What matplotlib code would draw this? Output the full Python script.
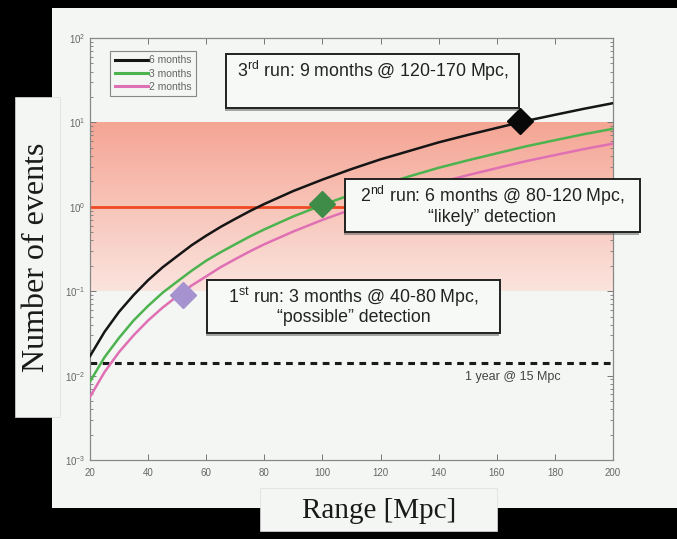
import numpy as np
import matplotlib
matplotlib.use("Agg")
import matplotlib.pyplot as plt
from matplotlib.patches import Rectangle
from matplotlib.colors import to_rgb

plt.rcParams['font.family'] = ['Liberation Sans', 'DejaVu Sans']
plt.rcParams['mathtext.default'] = 'regular'

# ---------------- data ----------------
range_mpc = [20, 25, 30, 35, 40, 45, 50, 55, 60, 65, 70, 75, 80, 90, 100, 110, 120, 130, 140, 150, 160, 170, 180, 190, 200]
events_6m = [0.017, 0.033, 0.057, 0.090, 0.135, 0.192, 0.26, 0.351, 0.455, 0.579, 0.72, 0.889, 1.08, 1.54, 2.1, 2.8, 3.65, 4.6, 5.8, 7.1, 8.6, 10.4, 12.3, 14.5, 16.9]
events_3m = [0.0085, 0.0165, 0.028, 0.045, 0.067, 0.096, 0.13, 0.175, 0.23, 0.29, 0.36, 0.445, 0.54, 0.77, 1.05, 1.4, 1.8, 2.3, 2.9, 3.55, 4.3, 5.2, 6.15, 7.25, 8.4]
events_2m = [0.0056, 0.011, 0.019, 0.030, 0.045, 0.064, 0.087, 0.117, 0.15, 0.193, 0.24, 0.296, 0.36, 0.51, 0.70, 0.93, 1.2, 1.53, 1.93, 2.37, 2.87, 3.47, 4.1, 4.83, 5.6]
series_labels = ['6 months', '3 months', '2 months']

run_points_x = [52, 100, 168]
run_points_y = [0.09, 1.08, 10.3]

band_low, band_high = 0.1, 10.0
likely_level = 1.0
likely_x = [20, 110]
year15_level = 0.014
year15_x = [20, 200]

x_ticks = [20, 40, 60, 80, 100, 120, 140, 160, 180, 200]
y_ticks = [1e-3, 1e-2, 1e-1, 1e0, 1e1, 1e2]
y_ticklabels = ['$10^{-3}$', '$10^{-2}$', '$10^{-1}$', '$10^{0}$', '$10^{1}$', '$10^{2}$']

run_texts = [
    ('3$^{rd}$ run: 9 months @ 120-170 Mpc,', ''),
    ('2$^{nd}$ run: 6 months @ 80-120 Mpc,', '\u201clikely\u201d detection'),
    ('1$^{st}$ run: 3 months @ 40-80 Mpc,', '\u201cpossible\u201d detection'),
]

# ---------------- layout ----------------
W, H = 677, 539
fig = plt.figure(figsize=(W / 100, H / 100), dpi=100, facecolor='black')

def fx(px):
    return px / W

def fy(py):
    return 1 - py / H

slide_bg = '#f3f6f2'
fig.patches.append(Rectangle((fx(52), fy(508)), fx(677) - fx(52), fy(8) - fy(508),
                             transform=fig.transFigure, facecolor=slide_bg, edgecolor='none', zorder=-5))

ax = fig.add_axes([fx(90), fy(460), fx(613) - fx(90), fy(38) - fy(460)])
ax.set_zorder(1)
ax.set_facecolor(slide_bg)
ax.set_yscale('log')
ax.set_xlim(20, 200)
ax.set_ylim(1e-3, 1e2)

# gradient band
top_c = np.array(to_rgb('#f4a594'))
bot_c = np.array(to_rgb('#fae3dd'))
edges = np.logspace(np.log10(band_low), np.log10(band_high), 81)
for i in range(len(edges) - 1):
    t = i / (len(edges) - 2)
    c = bot_c * (1 - t) + top_c * t
    ax.axhspan(edges[i], edges[i + 1], color=c, lw=0, zorder=1)

ax.plot(likely_x, [likely_level] * 2, color='#ee4a22', lw=2.0, zorder=2)
ax.plot(year15_x, [year15_level] * 2, color='#1a1a1a', lw=2.2, ls=(0, (2.2, 1.8)), zorder=2)

colors = ['#151515', '#4db34f', '#e070b4']
for ys, c, lab in zip([events_6m, events_3m, events_2m], colors, series_labels):
    ax.plot(range_mpc, ys, color=c, lw=1.8, label=lab, zorder=3)

marker_colors = ['#a592cf', '#3f8c48', '#080808']
for x, y, c in zip(run_points_x, run_points_y, marker_colors):
    ax.plot([x], [y], marker='D', ms=13, color=c, mec=c, zorder=4)

ax.set_xticks(x_ticks)
ax.set_xticklabels([str(v) for v in x_ticks])
ax.set_yticks(y_ticks)
ax.set_yticklabels(y_ticklabels)
ax.tick_params(which='both', direction='in', top=True, right=True, colors='#777777',
               labelcolor='#666666', labelsize=7)
ax.tick_params(which='major', length=4, width=0.7)
ax.tick_params(which='minor', length=2, width=0.6)
ax.tick_params(axis='x', pad=6)
for s in ax.spines.values():
    s.set_color('#888888')
    s.set_linewidth(0.9)

leg = ax.legend(loc='upper left', bbox_to_anchor=(0.028, 0.982), fontsize=7.5, handlelength=3.2,
                handletextpad=0.1, labelspacing=0.3, borderpad=0.45, fancybox=False,
                framealpha=1, facecolor=slide_bg, edgecolor='#888888')
for t in leg.get_texts():
    t.set_color('#666666')
for l in leg.get_lines():
    l.set_linewidth(2.2)
leg.get_frame().set_linewidth(0.8)

ax.text(0.809, 0.197, '1 year @ 15 Mpc', transform=ax.transAxes, fontsize=9, color='#444444',
        ha='center', va='center')

# annotation boxes
boxes = [(226, 54, 519, 108), (345, 179, 640, 232), (207, 280, 500, 333)]
for (x0, y0, x1, y1), (l1, l2) in zip(boxes, run_texts):
    fig.patches.append(Rectangle((fx(x0 - 1), fy(y1 + 3)), fx(x1) - fx(x0), fy(y0) - fy(y1),
                                 transform=fig.transFigure, facecolor='#555555', edgecolor='none',
                                 alpha=0.5, zorder=5))
    fig.patches.append(Rectangle((fx(x0), fy(y1)), fx(x1) - fx(x0), fy(y0) - fy(y1),
                                 transform=fig.transFigure, facecolor='#f7f9f6', edgecolor='#222222',
                                 lw=1.4, zorder=6))
    cx = (x0 + x1) / 2
    fig.text(fx(cx), fy(y0 + 17), l1, fontsize=12.8, color='#222222', ha='center', va='center', zorder=7)
    if l2:
        fig.text(fx(cx), fy(y0 + 38), l2, fontsize=12.8, color='#222222', ha='center', va='center', zorder=7)

# axis label boxes
fig.patches.append(Rectangle((fx(15), fy(417)), fx(60) - fx(15), fy(97) - fy(417),
                             transform=fig.transFigure, facecolor=slide_bg, edgecolor='#dddddd',
                             lw=0.5, zorder=5))
fig.text(fx(37), fy(257), 'Number of events', rotation=90, fontsize=23,
         family=['Liberation Serif', 'DejaVu Serif'], color='#1a1a1a', ha='center', va='center', zorder=7)

fig.patches.append(Rectangle((fx(260), fy(531)), fx(497) - fx(260), fy(488) - fy(531),
                             transform=fig.transFigure, facecolor=slide_bg, edgecolor='#dddddd',
                             lw=0.5, zorder=5))
fig.text(fx(379), fy(511), 'Range [Mpc]', fontsize=21,
         family=['Liberation Serif', 'DejaVu Serif'], color='#1a1a1a', ha='center', va='center', zorder=7)

fig.savefig('out.png', dpi=100, facecolor='black')
